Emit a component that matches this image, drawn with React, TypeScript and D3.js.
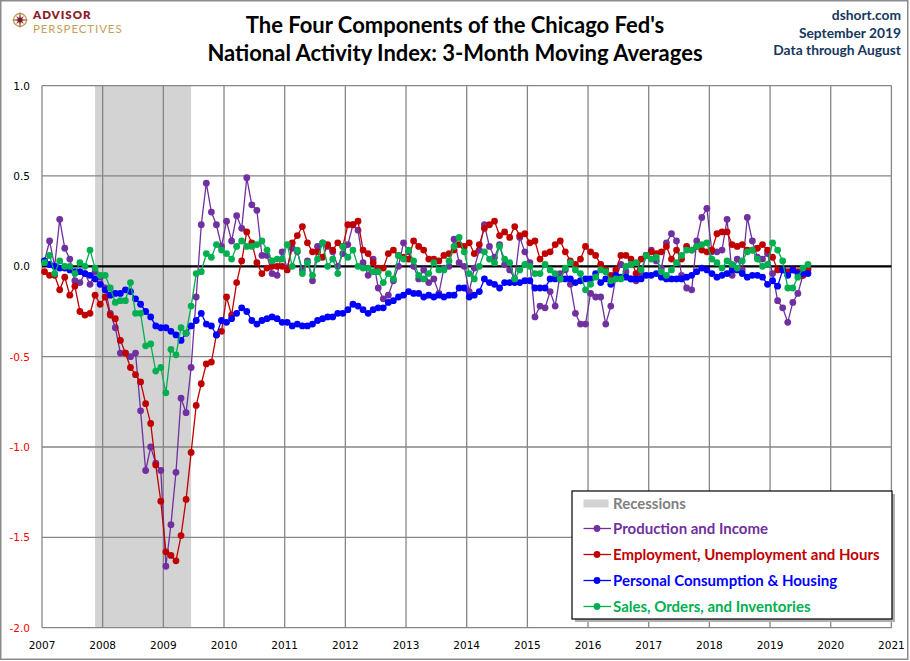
import * as d3 from "d3";

// monthly 3-month moving averages, Jan 2007 .. Aug 2019
const startYear = 2007;

const production = [
  0.03, 0.14, 0.0, 0.26, 0.1, 0.04, -0.08, -0.09, -0.04, -0.1, -0.03, -0.06,
  -0.12, -0.26, -0.34, -0.48, -0.48, -0.5, -0.48, -0.8, -1.13, -1.0, -1.09, -1.13,
  -1.66, -1.43, -1.14, -0.73, -0.81, -0.56, -0.17, 0.23, 0.46, 0.3, 0.23, 0.11,
  0.25, 0.14, 0.28, 0.21, 0.49, 0.34, 0.31, 0.06, 0.06, -0.04, -0.05, 0.08,
  -0.01, 0.1, 0.08, -0.02, 0.03, -0.08, 0.11, 0.13, 0.11, 0.08, 0.0, 0.07,
  0.12, 0.23, 0.2, 0.02, -0.05, 0.04, -0.12, -0.18, -0.16, -0.08, 0.0, 0.13,
  0.08, 0.0, -0.07, -0.02, -0.09, -0.07, -0.15, -0.01, 0.0, 0.15, 0.02, 0.0,
  -0.14, -0.01, 0.09, 0.23, 0.11, 0.05, 0.12, 0.01, -0.02, -0.07, 0.16, 0.08,
  0.02, -0.28, -0.22, -0.23, -0.14, -0.22, -0.04, -0.02, -0.1, -0.26, -0.32, -0.32,
  -0.15, -0.17, -0.17, -0.32, -0.22, -0.06, 0.01, -0.03, -0.07, -0.08, -0.04, 0.06,
  0.09, 0.03, -0.01, 0.13, 0.18, 0.14, -0.05, -0.12, -0.13, 0.14, 0.27, 0.32,
  0.08, 0.08, 0.09, 0.26, -0.05, 0.04, -0.02, 0.27, 0.14, 0.05, 0.04, 0.07,
  -0.04, -0.19, -0.23, -0.31, -0.2, -0.15, -0.05, -0.01,
];

const employment = [
  -0.03, -0.05, -0.05, -0.13, -0.06, -0.16, -0.11, -0.25, -0.27, -0.26, -0.16, -0.21,
  -0.17, -0.27, -0.29, -0.41, -0.48, -0.56, -0.6, -0.64, -0.76, -0.87, -1.1, -1.3,
  -1.58, -1.6, -1.63, -1.49, -1.29, -1.03, -0.77, -0.65, -0.54, -0.53, -0.38, -0.36,
  -0.17, -0.27, -0.09, 0.03, 0.19, 0.13, 0.02, -0.04, -0.01, 0.0, 0.0, 0.0,
  -0.02, 0.13, 0.17, 0.22, 0.13, 0.08, 0.08, 0.05, 0.12, 0.09, 0.13, 0.11,
  0.23, 0.23, 0.25, 0.09, 0.07, 0.02, -0.01, -0.01, 0.07, 0.09, 0.06, 0.05,
  0.04, 0.14, 0.11, 0.09, 0.04, 0.04, 0.03, 0.06, 0.07, 0.09, 0.12, 0.11,
  0.13, 0.07, 0.12, 0.21, 0.23, 0.25, 0.17, 0.19, 0.16, 0.22, 0.17, 0.18,
  0.13, 0.14, 0.04, 0.07, 0.08, 0.12, 0.14, 0.08, 0.03, 0.01, 0.04, 0.11,
  0.08, 0.06, 0.01, -0.02, -0.05, -0.02, 0.06, 0.06, 0.04, -0.04, 0.04, 0.06,
  0.08, 0.07, 0.08, 0.11, 0.04, 0.09, 0.04, 0.11, 0.09, 0.11, 0.09, 0.08,
  0.09, 0.18, 0.19, 0.19, 0.12, 0.11, 0.12, 0.09, 0.09, 0.1, 0.12, 0.09,
  0.05, -0.02, -0.02, -0.03, -0.02, -0.03, -0.05, -0.02,
];

const consumption = [
  0.03, 0.01, 0.0, -0.01, -0.01, -0.02, -0.03, -0.03, -0.04, -0.05, -0.07, -0.1,
  -0.13, -0.16, -0.15, -0.15, -0.13, -0.14, -0.18, -0.21, -0.25, -0.28, -0.33, -0.34,
  -0.34, -0.36, -0.38, -0.41, -0.37, -0.33, -0.3, -0.26, -0.32, -0.33, -0.38, -0.3,
  -0.31, -0.29, -0.26, -0.23, -0.25, -0.3, -0.32, -0.3, -0.29, -0.28, -0.29, -0.31,
  -0.31, -0.33, -0.32, -0.33, -0.33, -0.32, -0.3, -0.29, -0.28, -0.28, -0.26, -0.26,
  -0.24, -0.21, -0.22, -0.24, -0.26, -0.24, -0.23, -0.23, -0.2, -0.19, -0.17, -0.16,
  -0.14, -0.15, -0.15, -0.17, -0.16, -0.17, -0.16, -0.17, -0.16, -0.16, -0.12, -0.12,
  -0.17, -0.16, -0.14, -0.07, -0.09, -0.1, -0.12, -0.09, -0.09, -0.09, -0.09, -0.08,
  -0.08, -0.12, -0.12, -0.12, -0.07, -0.07, -0.07, -0.07, -0.07, -0.09, -0.08, -0.07,
  -0.07, -0.04, -0.09, -0.07, -0.1, -0.05, -0.06, -0.06, -0.07, -0.07, -0.07, -0.05,
  -0.05, -0.04, -0.06, -0.07, -0.07, -0.07, -0.07, -0.06, -0.05, -0.03, -0.01, -0.02,
  -0.04, -0.06, -0.05, -0.04, -0.02, -0.02, -0.04, -0.06, -0.05, -0.05, -0.06, -0.1,
  -0.08, -0.11, -0.02, -0.05, -0.02, -0.04, -0.04, -0.04,
];

const sales = [
  0.02, 0.06, -0.04, 0.03, 0.0, 0.0, -0.04, 0.02, 0.0, 0.09, -0.01, -0.05,
  -0.05, -0.12, -0.2, -0.19, -0.19, -0.09, -0.26, -0.26, -0.44, -0.43, -0.58, -0.56,
  -0.7, -0.46, -0.49, -0.34, -0.37, -0.22, -0.04, -0.03, 0.07, 0.05, 0.12, 0.09,
  0.07, 0.04, 0.11, 0.14, 0.11, 0.11, 0.12, 0.14, 0.09, 0.03, 0.04, 0.04,
  0.12, 0.0, 0.09, -0.04, 0.02, -0.05, 0.04, 0.13, 0.0, 0.04, -0.04, 0.11,
  0.05, 0.09, 0.0, -0.01, -0.01, -0.03, -0.03, -0.09, -0.04, -0.07, 0.06, 0.04,
  0.09, 0.03, -0.05, -0.07, -0.04, 0.02, -0.02, -0.02, 0.03, 0.11, 0.16, 0.08,
  -0.04, -0.07, 0.0, 0.08, 0.04, 0.02, 0.11, 0.04, 0.02, -0.07, -0.02, 0.01,
  0.0, -0.04, -0.04, 0.01, -0.02, -0.04, -0.07, -0.01, 0.02, -0.02, -0.04, -0.13,
  -0.1, -0.06, -0.02, -0.03, -0.08, -0.07, -0.07, 0.0, 0.01, 0.02, -0.02, 0.06,
  0.04, 0.05, -0.03, -0.05, -0.02, 0.02, 0.06, 0.09, 0.09, 0.11, 0.12, 0.13,
  0.04, 0.02, -0.01, 0.03, 0.01, -0.01, 0.03, 0.08, 0.09, 0.04, 0.0, 0.01,
  0.13, 0.09, 0.03, -0.12, -0.12, -0.06, -0.01, 0.01,
];

const seriesNames = [
  "Production and Income",
  "Employment, Unemployment and Hours",
  "Personal Consumption & Housing",
  "Sales, Orders, and Inventories",
];
const seriesColors = ["#7030A0", "#C00000", "#0000FF", "#00B050"];
const seriesValues = [production, employment, consumption, sales];

const recessions = [[2007.875, 2009.458]];
const yTicks = [1, 0.5, 0, -0.5, -1, -1.5, -2];
const xYears = d3.range(2007, 2022);

const titleLines = [
  "The Four Components of the Chicago Fed's",
  "National Activity Index: 3-Month Moving Averages",
];
const noteLines = ["dshort.com", "September 2019", "Data through August"];

const W = 910;
const H = 661;

const Logo = () => {
  const star = d3.range(16).map((k) => {
    const a = (k * Math.PI) / 8 - Math.PI / 2;
    const r = k % 4 === 0 ? 8.5 : k % 2 === 0 ? 5.5 : 2.2;
    return [20 + r * Math.cos(a), 20 + r * Math.sin(a)] as [number, number];
  });
  return (
    <g>
      <circle cx={20} cy={20} r={6.5} fill="none" stroke="#C5A05A" strokeWidth={1.4} />
      <path d={d3.line()(star) + "Z"} fill="#7B1C24" />
      <text x={33} y={18.5} fontFamily="Lato, 'Open Sans', sans-serif" fontWeight={800} fontSize={11.5} letterSpacing={1} fill="#8B1E2D">
        ADVISOR
      </text>
      <text x={33} y={32.5} fontFamily="Lato, 'Open Sans', sans-serif" fontSize={11.5} letterSpacing={0.9} fill="#C5A05A">
        PERSPECTIVES
      </text>
    </g>
  );
};

export default function App() {
  const x = d3.scaleLinear().domain([2007, 2021]).range([42, 891.4]);
  const y = d3.scaleLinear().domain([-2, 1]).range([627.7, 85.6]);
  const date = (i: number) => startYear + (i + 0.5) / 12;
  const line = d3
    .line<number>()
    .x((_, i) => x(date(i)))
    .y((d) => y(d));

  const labelFont = "'DejaVu Sans', Verdana, sans-serif";
  const legendFont = "Lato, 'Open Sans', sans-serif";
  const legendX = 572;
  const legendY = 491;

  return (
    <div style={{ position: "absolute", left: 0, top: 0 }}>
      <svg width={W} height={H} viewBox={`0 0 ${W} ${H}`}>
        <rect x={0} y={0} width={W} height={H} fill="#fff" />
        <rect x={0.75} y={0.75} width={W - 3} height={H - 2.5} fill="none" stroke="#8c8c8c" strokeWidth={1.5} />

        <Logo />

        {titleLines.map((t, i) => (
          <text
            key={t}
            x={455}
            y={33 + i * 28}
            textAnchor="middle"
            fontFamily="Lato, 'Open Sans', sans-serif"
            fontWeight={700}
            fontSize={22}
            fill="#000"
          >
            {t}
          </text>
        ))}
        {noteLines.map((t, i) => (
          <text
            key={t}
            x={901}
            y={20 + i * 17.5}
            textAnchor="end"
            fontFamily="Lato, 'Open Sans', sans-serif"
            fontWeight={700}
            fontSize={13.8}
            fill="#17375E"
          >
            {t}
          </text>
        ))}

        {recessions.map(([a, b], i) => (
          <rect key={i} x={x(a)} y={y(1)} width={x(b) - x(a)} height={y(-2) - y(1)} fill="#d3d3d3" />
        ))}

        {xYears.map((yr) => (
          <line key={yr} x1={x(yr)} x2={x(yr)} y1={y(1)} y2={y(-2)} stroke="#868686" strokeWidth={1.3} />
        ))}
        {yTicks.map((v) => (
          <line key={v} x1={x(2007)} x2={x(2021)} y1={y(v)} y2={y(v)} stroke="#868686" strokeWidth={1.3} />
        ))}
        <line x1={x(2007)} x2={x(2021)} y1={y(0)} y2={y(0)} stroke="#000" strokeWidth={2.2} />

        {yTicks.map((v) => (
          <text
            key={v}
            x={30}
            y={y(v) + 4}
            textAnchor="end"
            fontFamily={labelFont}
            fontSize={10.5}
            fill={v < 0 ? "#FF0000" : "#000"}
          >
            {v.toFixed(1)}
          </text>
        ))}
        {xYears.map((yr) => (
          <text key={yr} x={x(yr)} y={649} textAnchor="middle" fontFamily={labelFont} fontSize={10.5} fill="#000">
            {yr}
          </text>
        ))}

        {seriesValues.map((vals, s) => (
          <g key={s}>
            <path d={line(vals) ?? ""} fill="none" stroke={seriesColors[s]} strokeWidth={1.3} />
            {vals.map((v, i) => (
              <circle key={i} cx={x(date(i))} cy={y(v)} r={3.4} fill={seriesColors[s]} />
            ))}
          </g>
        ))}

        <g>
          <rect x={legendX + 3} y={legendY + 3} width={320} height={128} fill="#b0b0b0" />
          <rect x={legendX} y={legendY} width={320} height={128} fill="#fff" stroke="#000" strokeWidth={1.2} />
          <rect x={legendX + 11.5} y={legendY + 8.5} width={25} height={8} fill="#d3d3d3" />
          <text x={legendX + 41} y={legendY + 17.5} fontFamily={legendFont} fontWeight={700} fontSize={15} fill="#808080">
            Recessions
          </text>
          {seriesNames.map((name, s) => {
            const cy = legendY + 37.5 + s * 26;
            return (
              <g key={name}>
                <line x1={legendX + 11.5} x2={legendX + 39} y1={cy} y2={cy} stroke={seriesColors[s]} strokeWidth={1.3} />
                <circle cx={legendX + 25} cy={cy} r={3.4} fill={seriesColors[s]} />
                <text x={legendX + 41} y={cy + 5} fontFamily={legendFont} fontWeight={700} fontSize={15} fill={seriesColors[s]}>
                  {name}
                </text>
              </g>
            );
          })}
        </g>
      </svg>
    </div>
  );
}
